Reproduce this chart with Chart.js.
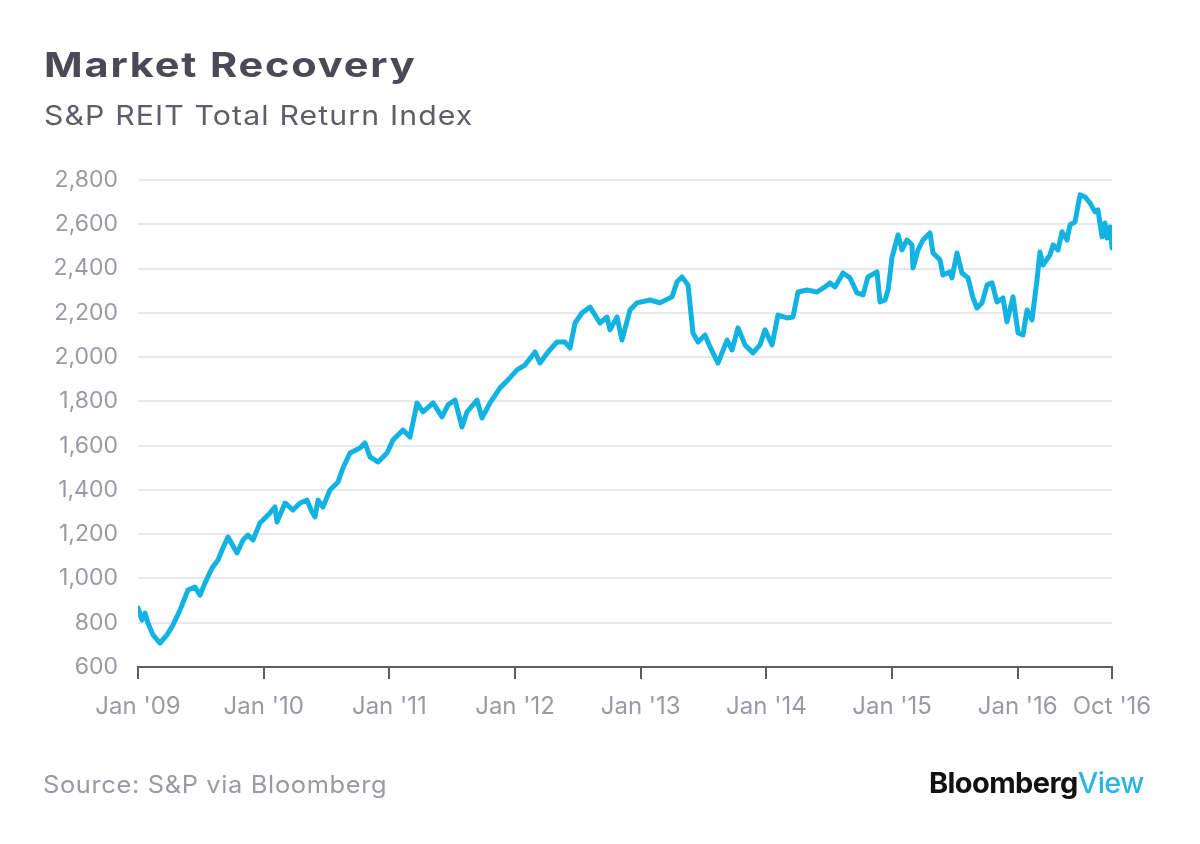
<!DOCTYPE html>
<html>
<head>
<meta charset="utf-8">
<script src="https://cdn.jsdelivr.net/npm/chart.js@4.4.1/dist/chart.umd.min.js"></script>
<style>
  html, body { margin: 0; padding: 0; background: #ffffff; }
  #wrap { position: relative; width: 1200px; height: 844px; overflow: hidden; background: #fff; }
  #chartBox { position: absolute; left: 0; top: 0; width: 1200px; height: 844px; }
  .txt { position: absolute; white-space: nowrap; font-family: Inter, "Open Sans", sans-serif; line-height: normal; transform-origin: 0 0; }
  #title { left: 44px; top: 44px; font-size: 34px; font-weight: 700; color: #4a4a57; letter-spacing: 1.5px; transform: scaleX(1.22); }
  #subtitle { left: 44px; top: 99px; font-size: 27px; font-weight: 400; color: #5e5e6a; letter-spacing: 1px; transform: scaleX(1.12); }
  #source { left: 43px; top: 770px; font-size: 24px; color: #9a9aa6; letter-spacing: 0.6px; transform: scaleX(1.06); }
  #logo { left: 929px; top: 765px; font-size: 29px; font-weight: 700; color: #111; letter-spacing: -0.6px; }
  #logo span { color: #2cb4e4; font-weight: 500; }
</style>
</head>
<body>
<div id="wrap">
  <div id="chartBox"><canvas id="c" width="1200" height="844"></canvas></div>
  <div class="txt" id="title">Market Recovery</div>
  <div class="txt" id="subtitle">S&amp;P REIT Total Return Index</div>
  <div class="txt" id="source">Source: S&amp;P via Bloomberg</div>
  <div class="txt" id="logo">Bloomberg<span>View</span></div>
</div>
<script>
// Months elapsed since Jan 2009 (fractional)
const monthOffsets = [
  0.0, 0.38, 0.67, 0.95, 1.43, 2.10, 2.77, 3.34, 4.01, 4.77, 5.44, 5.92, 6.40, 7.07, 7.64, 8.02,
  8.59, 9.45, 10.03, 10.50, 10.98, 11.65, 12.60, 13.08, 13.27, 14.04, 14.80, 15.47, 16.14, 16.61,
  16.90, 17.19, 17.66, 18.33, 19.10, 19.57, 20.24, 21.20, 21.67, 22.15, 22.92, 23.78, 24.35, 25.30,
  25.97, 26.64, 27.21, 28.17, 29.03, 29.60, 30.27, 30.94, 31.41, 32.37, 32.85, 33.61, 34.57, 35.33,
  36.19, 36.95, 37.91, 38.38, 39.15, 40.01, 40.77, 41.25, 41.73, 42.39, 43.16, 44.11, 44.78, 45.07,
  45.74, 46.21, 46.98, 47.65, 48.89, 49.84, 50.99, 51.47, 51.94, 52.52, 52.99, 53.47, 54.14, 54.62,
  55.38, 56.24, 56.72, 57.29, 57.96, 58.72, 59.39, 59.87, 60.54, 61.11, 61.97, 62.54, 63.02, 63.88,
  64.83, 65.60, 66.07, 66.55, 67.32, 67.98, 68.65, 69.23, 69.70, 70.56, 70.85, 71.33, 71.62, 72.00,
  72.57, 72.95, 73.43, 73.90, 74.00, 74.48, 74.95, 75.62, 75.91, 76.58, 76.86, 77.53, 77.72, 78.20,
  78.68, 79.25, 79.73, 80.11, 80.59, 81.07, 81.54, 82.02, 82.59, 82.97, 83.55, 84.03, 84.50, 84.89,
  85.36, 85.84, 86.12, 86.41, 87.08, 87.37, 87.84, 88.23, 88.70, 88.99, 89.47, 89.95, 90.42, 90.90,
  91.38, 91.66, 92.05, 92.33, 92.52, 92.81, 93.0
];
// S&P REIT Total Return Index values
const indexValues = [
  867, 812, 844, 799, 745, 708, 745, 790, 857, 948, 961, 925, 980, 1047, 1083, 1128,
  1187, 1115, 1174, 1196, 1174, 1251, 1296, 1323, 1255, 1341, 1309, 1341, 1354, 1300,
  1278, 1354, 1323, 1400, 1436, 1499, 1567, 1589, 1612, 1549, 1526, 1567, 1626, 1671,
  1639, 1793, 1752, 1793, 1730, 1784, 1806, 1684, 1752, 1806, 1725, 1793, 1861, 1897,
  1942, 1964, 2023, 1973, 2023, 2068, 2068, 2041, 2154, 2199, 2226, 2154, 2181, 2123,
  2181, 2077, 2213, 2245, 2258, 2245, 2272, 2340, 2362, 2326, 2109, 2068, 2100, 2046,
  1973, 2077, 2032, 2132, 2055, 2019, 2055, 2123, 2055, 2190, 2177, 2181, 2294, 2303,
  2294, 2317, 2335, 2317, 2380, 2358, 2290, 2281, 2362, 2385, 2249, 2258, 2303, 2452,
  2552, 2484, 2529, 2507, 2402, 2484, 2529, 2561, 2470, 2439, 2371, 2385, 2358, 2470,
  2380, 2358, 2267, 2222, 2245, 2326, 2335, 2249, 2267, 2159, 2272, 2109, 2100, 2213,
  2168, 2349, 2475, 2416, 2461, 2507, 2484, 2566, 2529, 2597, 2611, 2733, 2724, 2696,
  2656, 2665, 2543, 2606, 2538, 2588, 2493
];
const tickMonths = [0, 12, 24, 36, 48, 60, 72, 84, 93];
const tickLabels = ["Jan '09", "Jan '10", "Jan '11", "Jan '12", "Jan '13", "Jan '14", "Jan '15", "Jan '16", "Oct '16"];
const yTicks = [600, 800, 1000, 1200, 1400, 1600, 1800, 2000, 2200, 2400, 2600, 2800];

const points = monthOffsets.map((m, i) => ({ x: m, y: indexValues[i] }));
const fontFamily = 'Inter, "Open Sans", sans-serif';

new Chart(document.getElementById('c'), {
  type: 'line',
  data: {
    datasets: [{
      data: points,
      borderColor: '#12b3e3',
      borderWidth: 5,
      pointRadius: 0,
      tension: 0,
      borderJoinStyle: 'round',
      borderCapStyle: 'round',
      fill: false
    }]
  },
  options: {
    responsive: false,
    animation: false,
    events: [],
    layout: { padding: { top: 180, right: 88, bottom: 0, left: 0 } },
    plugins: { legend: { display: false }, tooltip: { enabled: false } },
    scales: {
      x: {
        type: 'linear',
        min: tickMonths[0],
        max: tickMonths[tickMonths.length - 1],
        afterBuildTicks: (scale) => { scale.ticks = tickMonths.map(v => ({ value: v })); },
        afterFit: (scale) => { scale.height = 177; },
        ticks: {
          autoSkip: false,
          maxRotation: 0,
          padding: 13,
          color: '#9a9aa6',
          font: { family: fontFamily, size: 24 },
          callback: (v) => { const i = tickMonths.indexOf(v); return i >= 0 ? tickLabels[i] : ''; }
        },
        grid: { drawOnChartArea: false, drawTicks: true, tickLength: 12, color: '#5c5c66', lineWidth: 2 },
        border: { display: true, color: '#5c5c66', width: 2 }
      },
      y: {
        type: 'linear',
        min: yTicks[0],
        max: yTicks[yTicks.length - 1],
        afterBuildTicks: (scale) => { scale.ticks = yTicks.map(v => ({ value: v })); },
        afterFit: (scale) => { scale.width = 138; },
        ticks: {
          padding: 20,
          color: '#9a9aa6',
          font: { family: fontFamily, size: 23 },
          callback: (v) => v.toLocaleString('en-US')
        },
        grid: { drawTicks: false, color: (ctx) => ctx.index === 0 ? 'rgba(0,0,0,0)' : '#e9e9ec', lineWidth: 2 },
        border: { display: false }
      }
    }
  }
});
</script>
</body>
</html>
